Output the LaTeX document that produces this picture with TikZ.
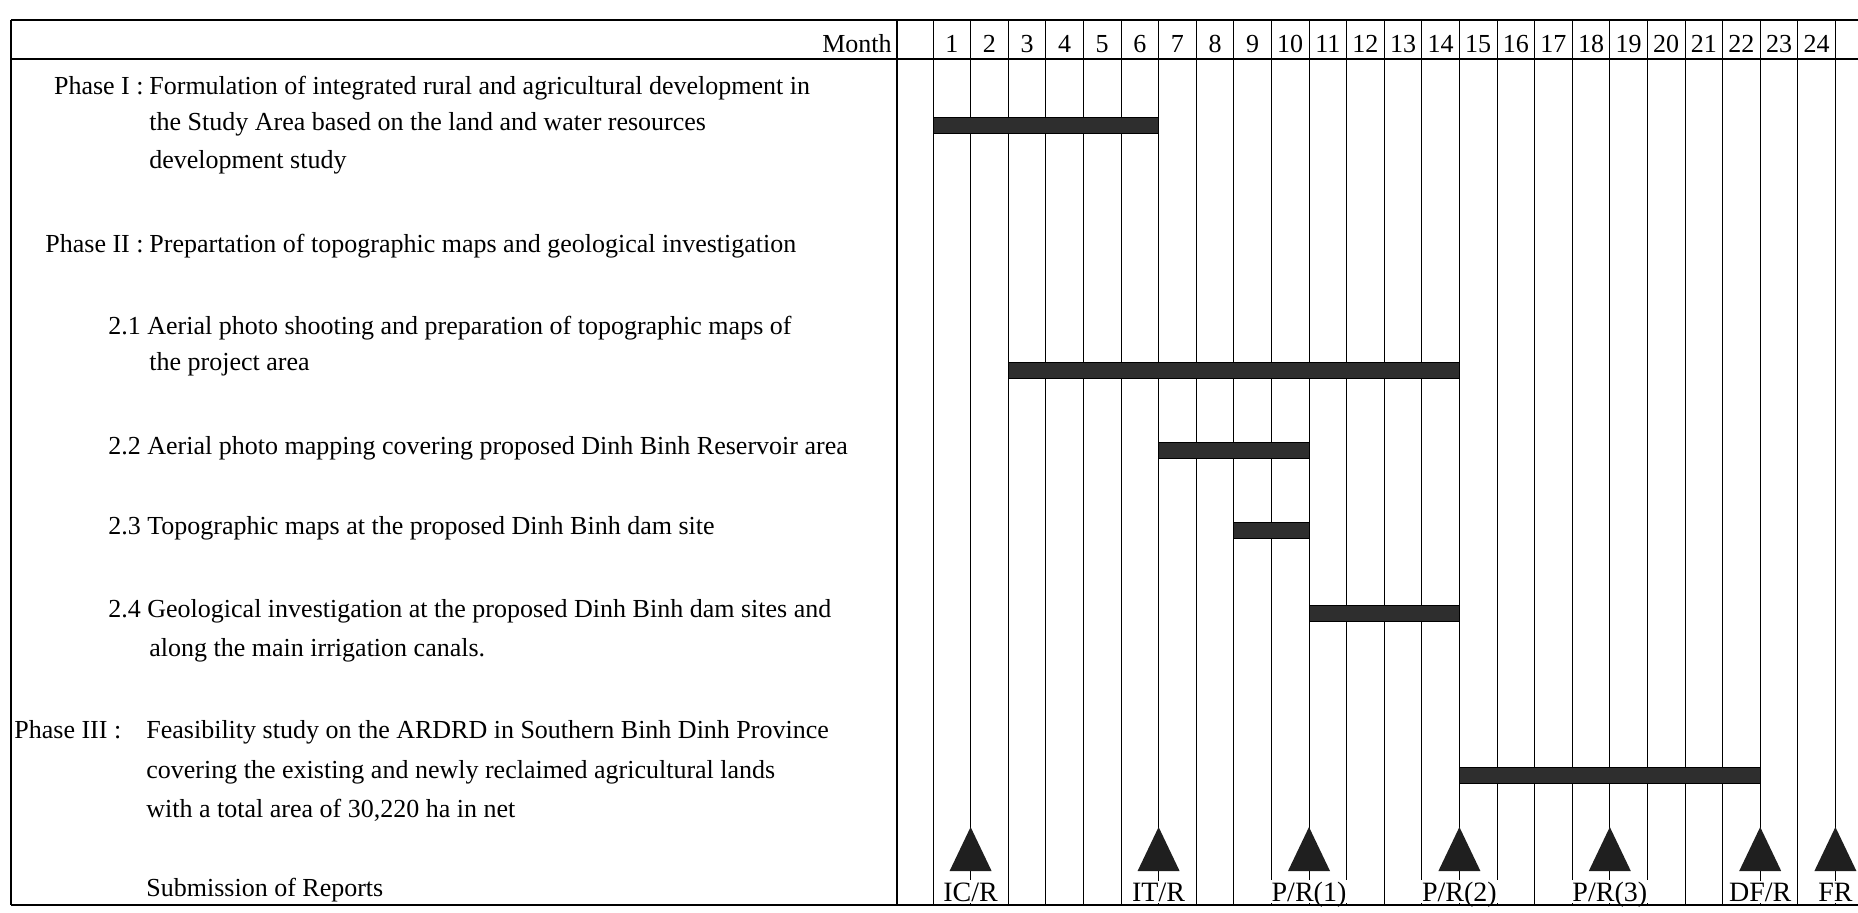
\documentclass[tikz,border=0pt]{standalone}
\usepackage{fontspec}
\setmainfont{Liberation Serif}
\usetikzlibrary{positioning}

\begin{document}
\begin{tikzpicture}[x=0.5pt,y=-0.5pt,font=\fontsize{13}{15}\selectfont,
        frame/.style={line width=1.3pt},
        gridline/.style={line width=0.5pt},
        bar/.style={fill=black!82,draw=black,line width=0.5pt},
        txt/.style={anchor=base west,inner sep=0pt},
        phase/.style={anchor=base east,inner sep=0pt},
        report/.style={anchor=base,fill=white,inner sep=1pt,text depth=0pt,font=\fontsize{14}{16}\selectfont}]
                \useasboundingbox (0,0) rectangle (1858,912);
                % month columns
                \foreach \m in {0,...,24}
                    \draw[gridline] ({933+37.6*\m},20)--({933+37.6*\m},905);
                \foreach \m in {1,...,24}
                    \node[anchor=base,inner sep=0pt] (m\m) at ({933+37.6*(\m-0.5)},52) {\m};
                \node[phase] (month) at (892,52) {Month};
                % activities
                \node[phase] (ph1) at (144,94) {Phase I :};
                \node[txt] (ph1a) at (149,94) {Formulation of integrated rural and agricultural development in};
                \node[txt] (ph1b) at (149,130) {the Study Area based on the land and water resources};
                \node[txt] (ph1c) at (149,168) {development study};
                \node[phase] (ph2) at (144,252) {Phase II :};
                \node[txt] (ph2a) at (149,252) {Prepartation of topographic maps and geological investigation};
                \node[txt] (s21a) at (108,334) {2.1 Aerial photo shooting and preparation of topographic maps of};
                \node[txt] (s21b) at (149,370) {the project area};
                \node[txt] (s22) at (108,454) {2.2 Aerial photo mapping covering proposed Dinh Binh Reservoir area};
                \node[txt] (s23) at (108,534) {2.3 Topographic maps at the proposed Dinh Binh dam site};
                \node[txt] (s24a) at (108,617) {2.4 Geological investigation at the proposed Dinh Binh dam sites and};
                \node[txt] (s24b) at (149,656) {along the main irrigation canals.};
                \node[txt] (ph3) at (14,738) {Phase III :};
                \node[txt] (ph3a) at (146,738) {Feasibility study on the ARDRD in Southern Binh Dinh Province};
                \node[txt] (ph3b) at (146,778) {covering the existing and newly reclaimed agricultural lands};
                \node[txt] (ph3c) at (146,817) {with a total area of 30,220 ha in net};
                \node[txt] (sub) at (146,896) {Submission of Reports};
                % bars: first month / last month / row
                \foreach \a/\b/\y in {1/6/125,3/14/370,7/10/450,9/10/530,11/14/613,15/22/775}
                    \draw[bar] ({933+37.6*(\a-1)},{\y-8}) rectangle ({933+37.6*\b},{\y+8});
                % reports
                \foreach \m/\r [count=\i] in {1/{IC/R},6/{IT/R},10/{P/R(1)},14/{P/R(2)},18/{P/R(3)},22/{DF/R},24/{FR}}{
                    \coordinate (tip\i) at ({933+37.6*\m},827);
                    \fill[black!88] (tip\i)--++(21,44)--++(-42,0)--cycle;
                    \node[report] (rep\i) at ({933+37.6*\m},901) {\r};
                }
                % frame
                \draw[frame] (11,20)--(1858,20);
                \draw[frame] (11,59)--(1858,59);
                \draw[frame] (11,905)--(1858,905);
                \draw[frame] (11,20)--(11,905);
                \draw[frame] (897,20)--(897,905);
            \end{tikzpicture}
\end{document}
